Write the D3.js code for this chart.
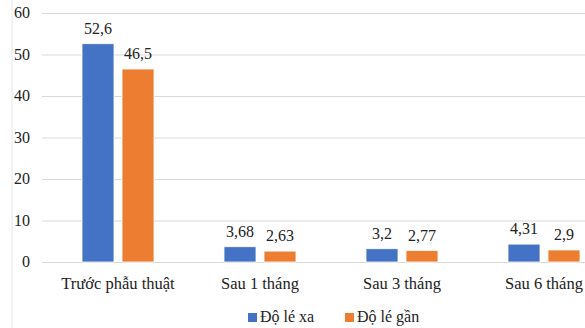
<!DOCTYPE html>
<meta charset="utf-8">
<style>
    body { margin: 0; background: #fff; }
</style>
<svg width="585" height="328" font-family="Liberation Serif"></svg>
<script src="https://d3js.org/d3.v7.min.js"></script>
<script>

    var categories = ["Trước phẫu thuật", "Sau 1 tháng", "Sau 3 tháng", "Sau 6 tháng"];
    var seriesNames = ["Độ lé xa", "Độ lé gần"];
    var farValues = [52.6, 3.68, 3.2, 4.31];
    var nearValues = [46.5, 2.63, 2.77, 2.9];
    var yTicks = [0, 10, 20, 30, 40, 50, 60];
    var colors = ["#4472c4", "#ed7d31"];
    var serif = "Liberation Serif";

    var svg = d3.select("svg");

    // plot runs off the right edge like the cropped original
    var x = d3.scaleBand().domain(categories).range([47, 615]).paddingInner(0).paddingOuter(0);
    var xs = d3.scaleBand().domain(seriesNames).range([0, 72]).paddingInner(0.2);
    var y = d3.scaleLinear().domain([0, 60]).range([262, 13]);

    // faint chart border on the left
    svg.append("line")
        .attr("x1", 12).attr("x2", 12).attr("y1", 0).attr("y2", 328)
        .attr("stroke", "#e6e6e6");

    var yAxis = svg.append("g")
        .attr("transform", "translate(42,0)")
        .call(d3.axisLeft(y).tickValues(yTicks).tickSize(-560).tickPadding(12));
    yAxis.attr("font-family", serif);
    yAxis.select(".domain").remove();
    yAxis.selectAll(".tick line").attr("stroke", "#d9d9d9").attr("stroke-width", 1.2);
    yAxis.selectAll(".tick text")
        .attr("font-size", 16)
        .attr("fill", "#222")
        .attr("dy", "0.3em");

    var rows = categories.map(function (c, i) {
        return { cat: c, vals: [farValues[i], nearValues[i]] };
    });

    var groups = svg.append("g").selectAll("g")
        .data(rows)
        .enter().append("g")
        .attr("transform", function (d) {
            return "translate(" + (x(d.cat) + x.bandwidth() / 2 - 36) + ",0)";
        });

    var bars = groups.selectAll("g")
        .data(function (d) {
            return d.vals.map(function (v, j) { return { name: seriesNames[j], v: v, j: j }; });
        })
        .enter().append("g");

    bars.append("rect")
        .attr("x", function (d) { return xs(d.name); })
        .attr("y", function (d) { return y(d.v); })
        .attr("width", xs.bandwidth())
        .attr("height", function (d) { return y(0) - y(d.v); })
        .attr("fill", function (d) { return colors[d.j]; })
        .attr("stroke", "#fff")
        .attr("stroke-width", 0.8);

    bars.append("text")
        .attr("x", function (d) { return xs(d.name) + xs.bandwidth() / 2; })
        .attr("y", function (d) { return y(d.v) - 10; })
        .attr("text-anchor", "middle")
        .attr("font-size", 16)
        .attr("fill", "#222")
        .text(function (d) { return String(d.v).replace(".", ","); });

    svg.append("g").selectAll("text")
        .data(categories)
        .enter().append("text")
        .attr("x", function (d) { return x(d) + x.bandwidth() / 2; })
        .attr("y", 289)
        .attr("text-anchor", "middle")
        .attr("font-size", 16.5)
        .attr("fill", "#222")
        .text(function (d) { return d; });

    // legend
    var legendX = [248, 345];
    var legend = svg.append("g").selectAll("g")
        .data(seriesNames)
        .enter().append("g")
        .attr("transform", function (d, i) { return "translate(" + legendX[i] + ",313)"; });
    legend.append("rect")
        .attr("width", 9).attr("height", 9)
        .attr("fill", function (d, i) { return colors[i]; });
    legend.append("text")
        .attr("x", 12).attr("y", 9)
        .attr("font-size", 16)
        .attr("fill", "#222")
        .text(function (d) { return d; });

</script>
